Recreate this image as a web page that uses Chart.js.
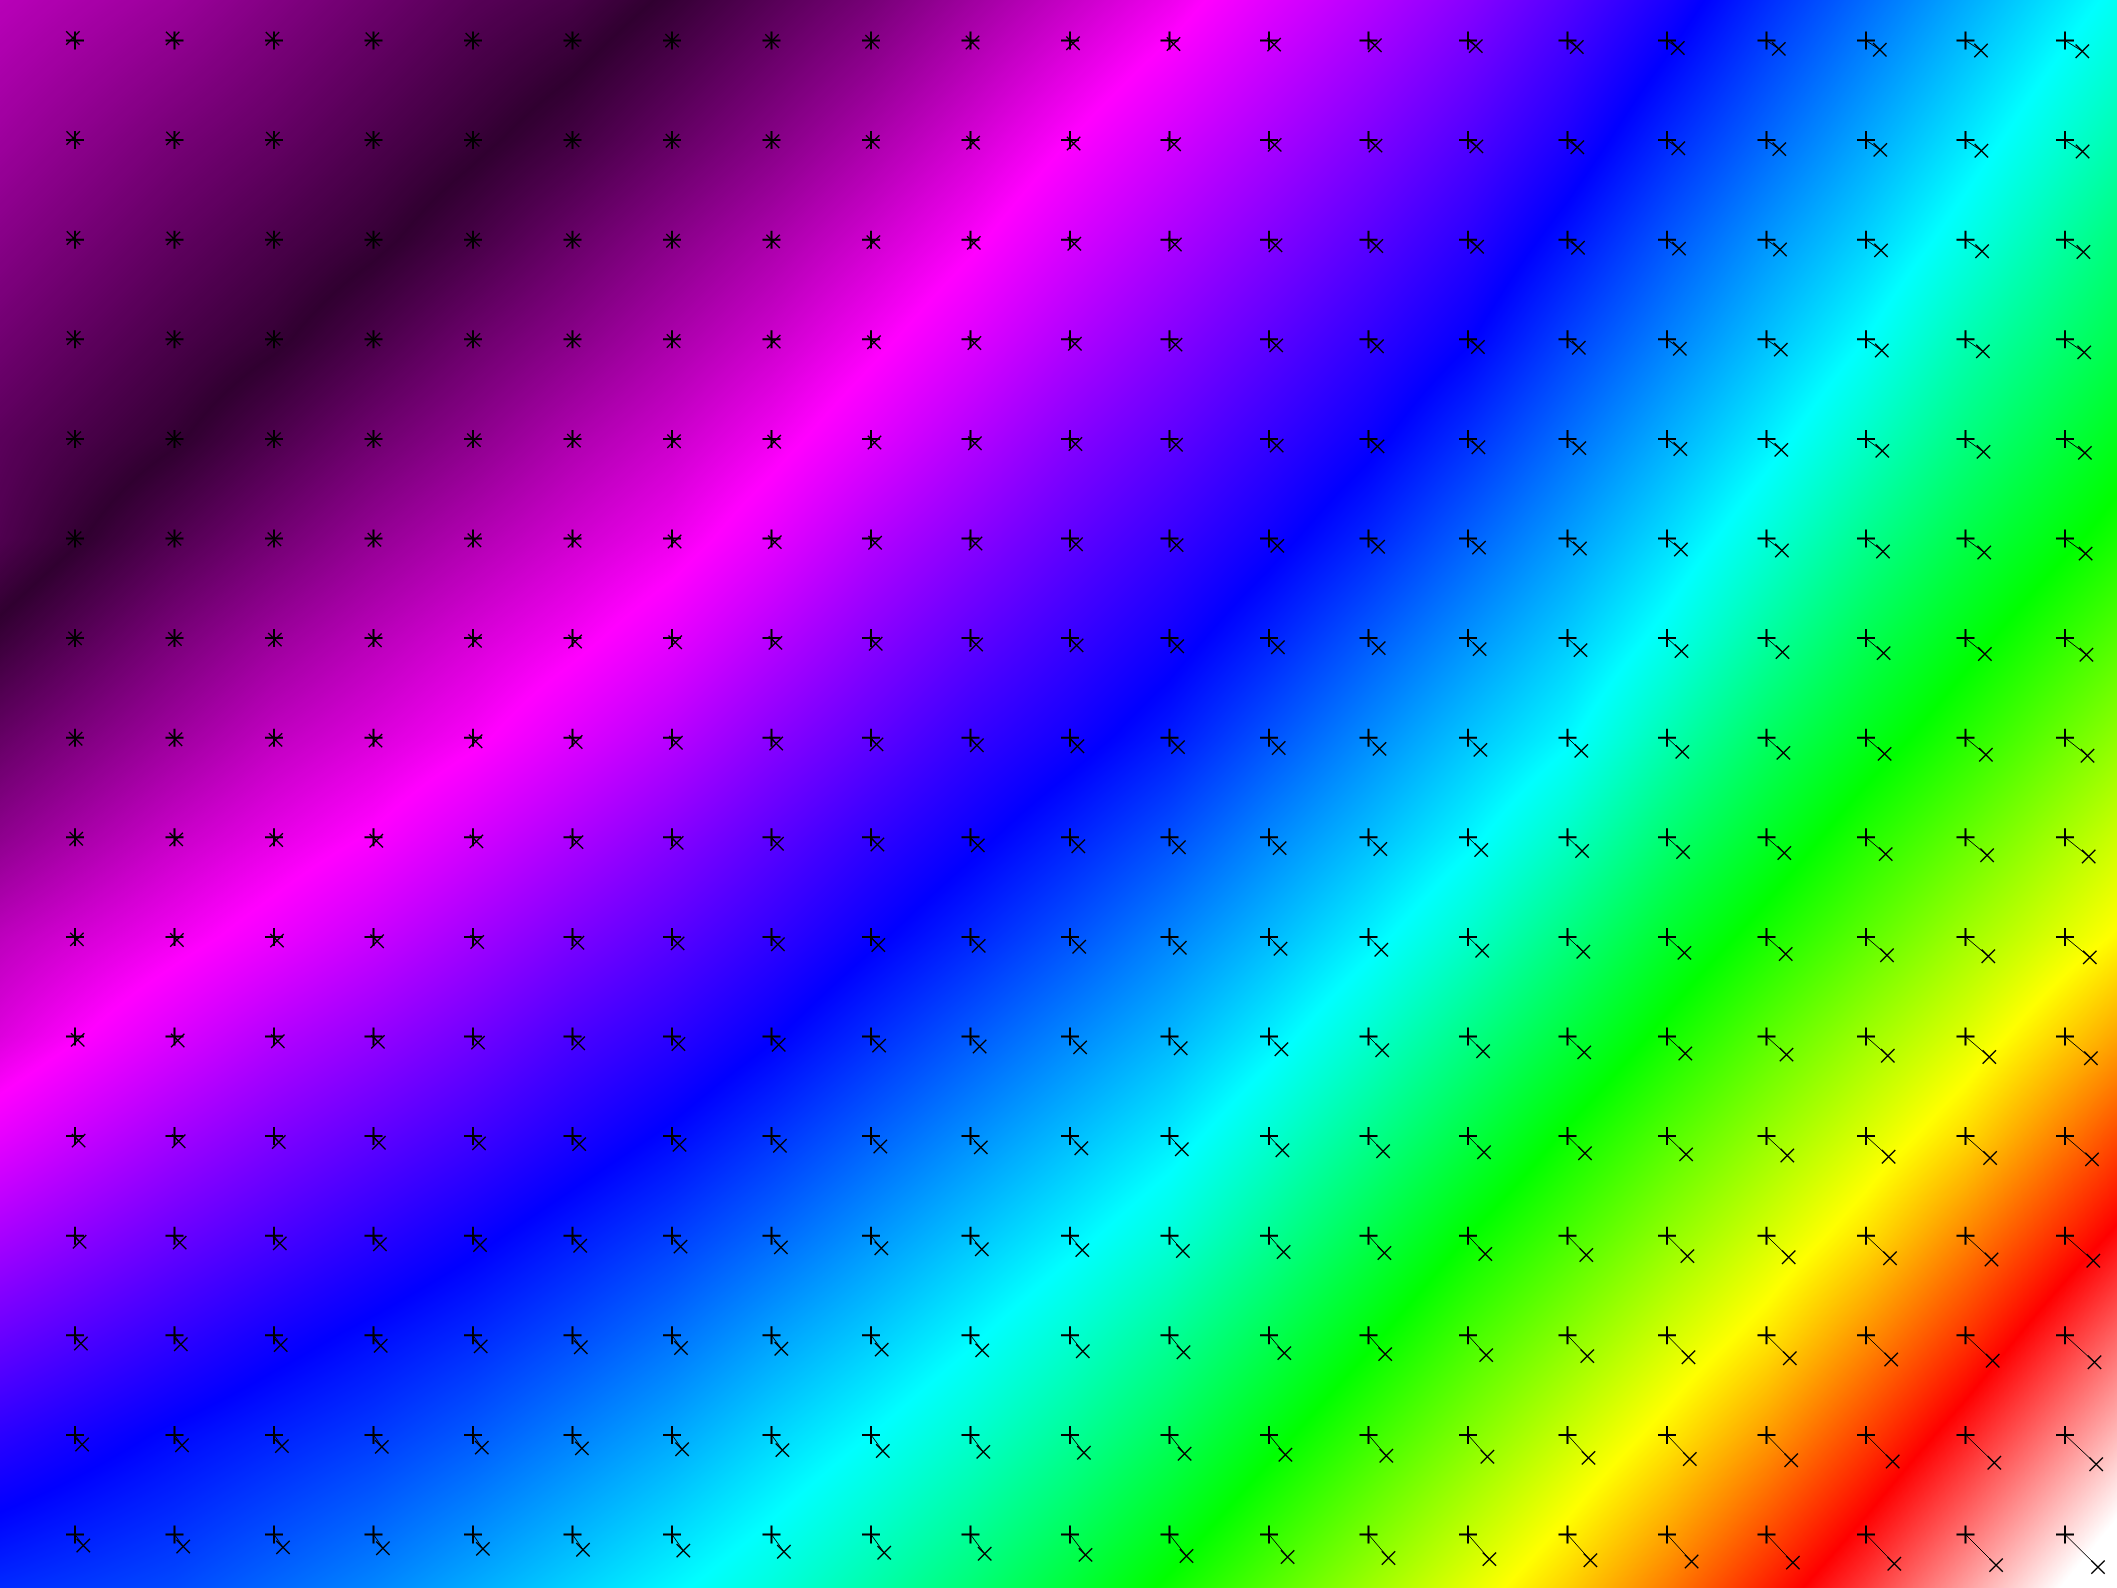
<!DOCTYPE html>
<html>
<head>
<meta charset="utf-8">
<script src="https://cdn.jsdelivr.net/npm/chart.js@4.4.1/dist/chart.umd.min.js"></script>
<style>
  html, body { margin: 0; padding: 0; background: #fff; overflow: hidden; }
  canvas { display: block; }
</style>
</head>
<body>
<canvas id="field" width="2117" height="1588"></canvas>
<script>
// Reference grid positions (pixel units of the image frame)
const gridX = [75, 174.5, 274, 373.5, 473, 572.5, 672, 771.5, 871, 970.5, 1070,
               1169.5, 1269, 1368.5, 1468, 1567.5, 1667, 1766.5, 1866, 1965.5, 2065];
const gridY = [40.5, 140.1, 239.7, 339.3, 438.9, 538.5, 638.1, 737.7, 837.3, 936.9,
               1036.5, 1136.1, 1235.7, 1335.3, 1434.9, 1534.5];

// Horizontal displacement of each grid point (rows top to bottom)
const shiftX = [
  [-2.1,-1.8,-1.5,-1.1,-0.7,-0.3, 0.1, 0.5, 1.1, 2.0, 3.0, 4.0, 5.1, 6.4, 7.8, 9.3,10.8,12.3,13.8,15.5,17.3],
  [-1.8,-1.5,-1.1,-0.7,-0.3, 0.1, 0.5, 1.0, 1.7, 2.6, 3.6, 4.6, 5.7, 7.0, 8.4, 9.8,11.3,12.8,14.3,15.9,17.6],
  [-1.5,-1.1,-0.7,-0.3, 0.1, 0.5, 1.0, 1.6, 2.4, 3.3, 4.3, 5.4, 6.5, 7.8, 9.1,10.5,12.0,13.5,15.0,16.6,18.4],
  [-1.2,-0.8,-0.4, 0.0, 0.4, 0.9, 1.5, 2.2, 3.0, 3.9, 4.9, 6.0, 7.2, 8.5, 9.9,11.3,12.8,14.3,15.8,17.4,19.2],
  [-0.8,-0.4, 0.0, 0.4, 0.9, 1.4, 2.0, 2.7, 3.5, 4.4, 5.4, 6.5, 7.7, 9.0,10.4,11.8,13.3,14.8,16.3,18.0,19.9],
  [-0.4, 0.0, 0.4, 0.9, 1.4, 2.0, 2.6, 3.3, 4.1, 5.0, 6.0, 7.1, 8.3, 9.6,11.0,12.4,13.9,15.4,17.0,18.7,20.6],
  [ 0.0, 0.4, 0.9, 1.4, 2.0, 2.6, 3.2, 3.9, 4.7, 5.6, 6.6, 7.7, 8.9,10.2,11.6,13.0,14.5,16.0,17.6,19.4,21.4],
  [ 0.6, 1.0, 1.5, 2.0, 2.6, 3.2, 3.9, 4.7, 5.5, 6.4, 7.4, 8.5, 9.7,11.0,12.4,13.8,15.3,16.9,18.6,20.4,22.5],
  [ 1.2, 1.7, 2.2, 2.8, 3.4, 4.0, 4.7, 5.5, 6.4, 7.3, 8.3, 9.4,10.6,11.8,13.2,14.6,16.1,17.8,19.7,21.6,23.7],
  [ 1.9, 2.4, 3.0, 3.6, 4.2, 4.9, 5.6, 6.4, 7.3, 8.2, 9.2,10.3,11.5,12.8,14.2,15.8,17.4,19.2,21.0,22.8,24.8],
  [ 2.7, 3.2, 3.8, 4.4, 5.0, 5.7, 6.4, 7.2, 8.1, 9.1,10.1,11.2,12.4,13.7,15.1,16.7,18.3,20.0,21.8,23.8,25.9],
  [ 3.6, 4.2, 4.8, 5.4, 6.0, 6.7, 7.5, 8.4, 9.3,10.3,11.3,12.3,13.4,14.6,16.0,17.5,19.1,20.8,22.6,24.6,27.0],
  [ 4.6, 5.2, 5.8, 6.4, 7.0, 7.7, 8.5, 9.4,10.3,11.3,12.3,13.4,14.6,15.9,17.3,18.8,20.4,22.2,24.0,26.0,28.3],
  [ 5.9, 6.3, 6.7, 7.2, 7.7, 8.3, 9.0, 9.8,10.7,11.7,12.8,14.0,15.3,16.7,18.2,19.8,21.5,23.3,25.2,27.2,29.5],
  [ 7.1, 7.5, 7.9, 8.3, 8.8, 9.4,10.1,10.9,11.8,12.8,13.9,15.1,16.4,17.8,19.4,21.0,22.8,24.7,26.7,28.8,31.2],
  [ 8.3, 8.7, 9.0, 9.4, 9.9,10.5,11.3,12.4,13.2,14.2,15.5,17.0,18.6,20.0,21.4,22.9,24.6,26.4,28.3,30.6,33.0]
];

// Vertical displacement of each grid point (positive = downwards)
const shiftY = [
  [-2.5,-2.1,-1.7,-1.3,-0.9,-0.4, 0.1, 0.5, 1.2, 2.0, 2.8, 3.5, 4.1, 4.8, 5.6, 6.5, 7.5, 8.4, 9.2,10.0,10.7],
  [-2.1,-1.7,-1.3,-0.9,-0.4, 0.1, 0.6, 1.1, 1.8, 2.6, 3.4, 4.1, 4.8, 5.5, 6.3, 7.2, 8.1, 9.0, 9.8,10.6,11.4],
  [-1.7,-1.3,-0.9,-0.4, 0.1, 0.6, 1.1, 1.7, 2.4, 3.2, 4.0, 4.8, 5.5, 6.3, 7.1, 8.0, 8.9, 9.8,10.7,11.6,12.3],
  [-1.3,-0.9,-0.4, 0.1, 0.6, 1.1, 1.7, 2.3, 3.0, 3.7, 4.5, 5.3, 6.1, 6.9, 7.7, 8.5, 9.4,10.3,11.2,12.1,13.1],
  [-0.8,-0.3, 0.2, 0.7, 1.2, 1.7, 2.3, 2.9, 3.6, 4.3, 5.1, 5.9, 6.7, 7.5, 8.3, 9.2,10.1,11.0,12.0,13.0,14.0],
  [-0.3, 0.2, 0.7, 1.2, 1.8, 2.4, 3.0, 3.6, 4.3, 5.0, 5.8, 6.6, 7.4, 8.3, 9.1,10.0,11.0,12.0,13.0,14.0,15.1],
  [ 0.3, 0.9, 1.5, 2.1, 2.8, 3.4, 4.1, 4.8, 5.6, 6.4, 7.3, 8.2, 9.1,10.0,11.0,12.0,13.0,14.0,15.0,15.9,16.7],
  [ 1.0, 1.6, 2.2, 2.9, 3.6, 4.3, 5.0, 5.8, 6.7, 7.6, 8.5, 9.4,10.3,11.2,12.2,13.2,14.2,15.2,16.2,17.1,18.0],
  [ 1.5, 2.1, 2.7, 3.4, 4.1, 4.8, 5.6, 6.4, 7.2, 8.1, 9.0, 9.9,10.8,11.7,12.7,13.7,14.7,15.7,16.8,18.0,19.2],
  [ 2.5, 3.1, 3.7, 4.4, 5.1, 5.8, 6.5, 7.3, 8.1, 9.0, 9.9,10.8,11.8,12.8,13.8,14.9,16.0,17.1,18.3,19.4,20.5],
  [ 3.4, 4.0, 4.7, 5.4, 6.1, 6.8, 7.5, 8.3, 9.1,10.0,10.9,11.8,12.8,13.8,14.8,15.9,17.0,18.1,19.3,20.5,21.8],
  [ 4.5, 5.2, 5.9, 6.6, 7.3, 8.0, 8.8, 9.6,10.4,11.3,12.2,13.1,14.1,15.1,16.1,17.2,18.3,19.4,20.6,21.9,23.3],
  [ 6.1, 6.9, 7.7, 8.5, 9.3,10.1,10.9,11.7,12.6,13.5,14.4,15.3,16.3,17.3,18.3,19.3,20.4,21.5,22.6,23.8,25.1],
  [ 8.2, 9.0, 9.7,10.4,11.1,11.9,12.7,13.5,14.3,15.1,16.0,16.9,17.8,18.8,19.8,20.8,21.9,23.0,24.2,25.5,26.9],
  [ 9.6,10.4,11.2,12.0,12.7,13.5,14.3,15.2,16.1,17.0,17.9,18.8,19.8,20.8,21.9,23.0,24.1,25.3,26.6,27.9,29.3],
  [11.0,12.0,12.9,13.7,14.4,15.2,16.1,17.2,18.3,19.3,20.4,21.5,22.5,23.5,24.6,25.8,27.0,28.1,29.2,30.6,32.6]
];

// Signed displacement magnitude behind the grid (negative = shifted up-left)
const levels = [
  [-3.1,-2.6,-2.0,-1.4,-0.8,-0.3, 0.5, 1.4, 2.3, 3.4, 4.5, 5.6, 6.9, 8.1, 9.4,10.9,12.6,14.5,16.3,18.1,19.9],
  [-2.5,-1.9,-1.4,-0.8,-0.2, 0.5, 1.4, 2.3, 3.3, 4.4, 5.6, 6.8, 8.0, 9.2,10.5,12.0,13.9,15.7,17.5,19.3,21.2],
  [-1.9,-1.3,-0.75,-0.2,0.6, 1.5, 2.4, 3.3, 4.3, 5.4, 6.7, 7.9, 9.1,10.3,11.6,13.3,15.2,17.0,18.7,20.6,22.6],
  [-1.3,-0.7,-0.15,0.7, 1.6, 2.4, 3.3, 4.2, 5.3, 6.5, 7.8, 9.0,10.2,11.4,12.7,14.6,16.4,18.2,20.0,22.1,23.9],
  [-0.7,-0.1, 0.8, 1.7, 2.5, 3.4, 4.2, 5.2, 6.4, 7.7, 9.0,10.1,11.3,12.5,14.1,15.9,17.7,19.5,21.5,23.5,25.3],
  [-0.1, 0.9, 1.8, 2.7, 3.5, 4.3, 5.1, 6.3, 7.7, 8.9,10.1,11.2,12.4,13.8,15.5,17.2,19.0,21.0,23.1,25.0,26.7],
  [ 1.0, 2.0, 2.9, 3.7, 4.5, 5.3, 6.3, 7.6, 8.9,10.1,11.2,12.3,13.7,15.3,16.9,18.5,20.4,22.6,24.7,26.5,28.3],
  [ 2.1, 3.0, 3.9, 4.6, 5.4, 6.5, 7.6, 8.9,10.1,11.3,12.3,13.5,15.1,16.7,18.3,19.8,22.1,24.3,26.2,28.0,29.9],
  [ 3.2, 4.1, 4.9, 5.7, 6.8, 7.9, 9.0,10.2,11.4,12.5,13.7,15.0,16.6,18.1,19.7,21.6,23.9,25.9,27.9,29.7,31.6],
  [ 4.4, 5.2, 6.1, 7.1, 8.2, 9.3,10.3,11.4,12.6,13.8,15.1,16.5,18.0,19.6,21.4,23.5,25.7,27.6,29.5,31.4,33.2],
  [ 5.5, 6.6, 7.7, 8.6, 9.6,10.7,11.6,12.7,14.0,15.3,16.6,17.9,19.5,21.3,23.3,25.3,27.4,29.4,31.3,33.1,35.3],
  [ 7.1, 8.2, 9.2,10.1,11.0,12.0,13.0,14.2,15.5,16.8,18.1,19.4,21.2,23.1,25.1,27.2,29.2,31.1,33.0,35.0,37.6],
  [ 8.8, 9.8,10.7,11.6,12.5,13.5,14.5,15.7,17.0,18.3,19.6,21.0,22.9,24.9,27.0,28.9,30.9,32.8,34.8,37.3,39.9],
  [10.5,11.4,12.3,13.1,13.9,14.9,16.0,17.3,18.5,19.8,21.2,22.8,24.7,26.7,28.8,30.7,32.7,34.6,37.0,39.5,42.3],
  [12.2,13.0,13.7,14.4,15.3,16.4,17.5,18.8,20.0,21.3,22.8,24.5,26.5,28.5,30.5,32.5,34.5,36.7,39.2,41.8,44.6],
  [13.6,14.2,15.0,15.8,16.8,17.9,19.0,20.2,21.5,22.9,24.5,26.3,28.3,30.3,32.3,34.3,36.5,38.9,41.4,44.1,46.9]
];

// Colour scale for the magnitude layer
const levelStops = [0, 5.6, 12.8, 20, 27, 34, 41, 48];
const stopColors = ['#300030', '#ff00ff', '#0000ff', '#00ffff', '#00ff00', '#ffff00', '#ff0000', '#ffffff'];

// ---- marker data ----
const anchors = [];
const moved = [];
const links = [];
for (let r = 0; r < gridY.length; r++) {
  for (let c = 0; c < gridX.length; c++) {
    const gx = gridX[c], gy = gridY[r];
    const mx = gx + shiftX[r][c], my = gy + shiftY[r][c];
    anchors.push({ x: gx, y: gy });
    moved.push({ x: mx, y: my });
    links.push({ x: gx, y: gy }, { x: mx, y: my }, { x: mx, y: null });
  }
}

// ---- colour lookup ----
function hexToRgb(h) {
  return [parseInt(h.slice(1, 3), 16), parseInt(h.slice(3, 5), 16), parseInt(h.slice(5, 7), 16)];
}
const stopRgb = stopColors.map(hexToRgb);
const LUT_N = 2048;
const lutMax = levelStops[levelStops.length - 1];
const lut = new Uint8ClampedArray(LUT_N * 3);
for (let i = 0; i < LUT_N; i++) {
  const v = (i / (LUT_N - 1)) * lutMax;
  let k = 0;
  while (k < levelStops.length - 2 && v > levelStops[k + 1]) k++;
  const t = Math.min(1, Math.max(0, (v - levelStops[k]) / (levelStops[k + 1] - levelStops[k])));
  for (let ch = 0; ch < 3; ch++) {
    lut[i * 3 + ch] = stopRgb[k][ch] + (stopRgb[k + 1][ch] - stopRgb[k][ch]) * t;
  }
}

// locate the grid interval (and fraction) for a value, extending edge cells outward
function locate(arr, v) {
  let i = 0;
  while (i < arr.length - 2 && v >= arr[i + 1]) i++;
  return [i, (v - arr[i]) / (arr[i + 1] - arr[i])];
}

// Draws the magnitude layer under the markers
const magnitudeLayer = {
  id: 'magnitudeLayer',
  beforeDatasetsDraw(chart) {
    const { ctx, chartArea: a, scales } = chart;
    const sx = scales.x, sy = scales.y;
    const w = Math.round(a.right - a.left), h = Math.round(a.bottom - a.top);
    const off = document.createElement('canvas');
    off.width = w; off.height = h;
    const octx = off.getContext('2d');
    const img = octx.createImageData(w, h);
    const d = img.data;
    const ci = new Int32Array(w), ct = new Float64Array(w);
    for (let px = 0; px < w; px++) {
      const [i, t] = locate(gridX, sx.getValueForPixel(a.left + px + 0.5));
      ci[px] = i; ct[px] = t;
    }
    for (let py = 0; py < h; py++) {
      const [j, u] = locate(gridY, sy.getValueForPixel(a.top + py + 0.5));
      const row0 = levels[j], row1 = levels[j + 1];
      for (let px = 0; px < w; px++) {
        const i = ci[px], t = ct[px];
        const top = row0[i] + (row0[i + 1] - row0[i]) * t;
        const bot = row1[i] + (row1[i + 1] - row1[i]) * t;
        const v = Math.abs(top + (bot - top) * u);
        let k = Math.round((v / lutMax) * (LUT_N - 1));
        if (k > LUT_N - 1) k = LUT_N - 1;
        const o = (py * w + px) * 4;
        d[o] = lut[k * 3]; d[o + 1] = lut[k * 3 + 1]; d[o + 2] = lut[k * 3 + 2]; d[o + 3] = 255;
      }
    }
    octx.putImageData(img, 0, 0);
    ctx.save();
    ctx.drawImage(off, a.left, a.top);
    ctx.restore();
  }
};

new Chart(document.getElementById('field'), {
  type: 'scatter',
  data: {
    datasets: [
      {
        label: 'links',
        data: links,
        showLine: true,
        spanGaps: false,
        borderColor: '#000000',
        borderWidth: 1,
        pointRadius: 0,
        pointHoverRadius: 0
      },
      {
        label: 'grid',
        data: anchors,
        pointStyle: 'cross',
        pointRadius: 9,
        borderColor: '#000000',
        backgroundColor: '#000000',
        borderWidth: 2
      },
      {
        label: 'displaced',
        data: moved,
        pointStyle: 'crossRot',
        pointRadius: 9.5,
        borderColor: '#000000',
        backgroundColor: '#000000',
        borderWidth: 1.4
      }
    ]
  },
  options: {
    responsive: false,
    devicePixelRatio: 1,
    animation: false,
    events: [],
    layout: { padding: 0, autoPadding: false },
    plugins: { legend: { display: false }, tooltip: { enabled: false } },
    scales: {
      x: { type: 'linear', min: 0, max: 2117, display: false },
      y: { type: 'linear', min: 0, max: 1588, reverse: true, display: false }
    }
  },
  plugins: [magnitudeLayer]
});
</script>
</body>
</html>
